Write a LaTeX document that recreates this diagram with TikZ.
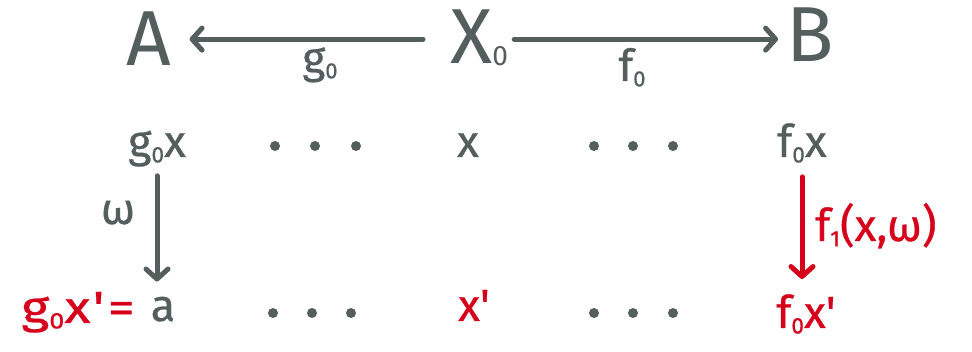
\documentclass[tikz,border=0pt]{standalone}
\usepackage{fontspec}
\setmainfont{Fira Sans}
\newfontfamily\hand{Fira Sans}[FakeBold=0.6]
\usetikzlibrary{arrows.meta}
\definecolor{ink}{HTML}{535E5D}
\definecolor{hot}{HTML}{D7001B}
\newcommand\lowsub[1]{\raisebox{-0.12em}{\scalebox{0.5}{#1}}}
\newcommand\bigsub[1]{\raisebox{-0.02em}{\scalebox{0.36}{#1}}}
\newcommand\pr{\textquotesingle}
\begin{document}
\begin{tikzpicture}[x=1pt,y=-1pt,
  big/.style={font=\rmfamily\fontsize{78}{80}\selectfont, text=ink, inner sep=0pt, anchor=base},
  mid/.style={font=\hand\fontsize{45}{47}\selectfont, text=ink, inner sep=0pt, anchor=base},
  lab/.style={font=\hand\fontsize{44}{46}\selectfont, text=ink, inner sep=0pt, anchor=base},
  arr/.style={draw=ink, line width=5pt, line cap=round, -{Straight Barb[length=10pt,width=22pt,round]}},
  dot/.style={circle, fill=ink, inner sep=0pt, minimum size=10pt}]
\useasboundingbox (0,0) rectangle (972,352);
% top row
\node[big] (A) at (149,66) {A};
\node[big, anchor=base west] (X) at (450,64) {X\bigsub{0}};
\node[big] (B) at (810,62) {B};
\draw[arr, shorten <=27pt, shorten >=18pt] (X.west |- A.east) -- (A.east);
\draw[arr, shorten <=6pt, shorten >=8pt] (X.east |- A.east) -- (B.west |- A.east);
\node[lab] (g0) at (320,73) {g\lowsub{0}};
\node[lab] (f0) at (632,81) {f\lowsub{0}};
% middle row
\node[mid] (gx) at (157,157) {g\lowsub{0}x};
\node[dot] (d1) at (275,146) {};
\node[dot] (d2) at (315,146) {};
\node[dot] (d3) at (356,146) {};
\node[mid] (x) at (468,157) {x};
\node[dot] (d4) at (594,146) {};
\node[dot] (d5) at (633,146) {};
\node[dot] (d6) at (673,146) {};
\node[mid] (fx) at (802,157) {f\lowsub{0}x};
% bottom row
\node[mid, text=hot, anchor=base east] (gxa) at (135,323) {\scalebox{1.2}[1]{g\lowsub{0}x\kern0.04em\pr\kern0.06em=}};
\node[mid] (a) at (163,321) {a};
\node[dot] (d7) at (273,313) {};
\node[dot] (d8) at (312,313) {};
\node[dot] (d9) at (351,313) {};
\node[mid, text=hot] (xp) at (474,321) {x\pr};
\node[dot] (d10) at (594,313) {};
\node[dot] (d11) at (633,313) {};
\node[dot] (d12) at (673,313) {};
\node[mid, text=hot] (fxp) at (806,328) {f\lowsub{0}x\pr};
% vertical arrows
\draw[arr, shorten <=9pt, shorten >=15pt] (gx.south) -- (gx.south |- a.north);
\node[lab] (w) at (118,224) {ω};
\draw[arr, draw=hot, shorten <=14pt, shorten >=15pt] (fx.south) -- (fx.south |- fxp.north);
\node[mid, text=hot, anchor=base west] (f1) at (815,241) {f\lowsub{1}(x,ω)};
\end{tikzpicture}
\end{document}
